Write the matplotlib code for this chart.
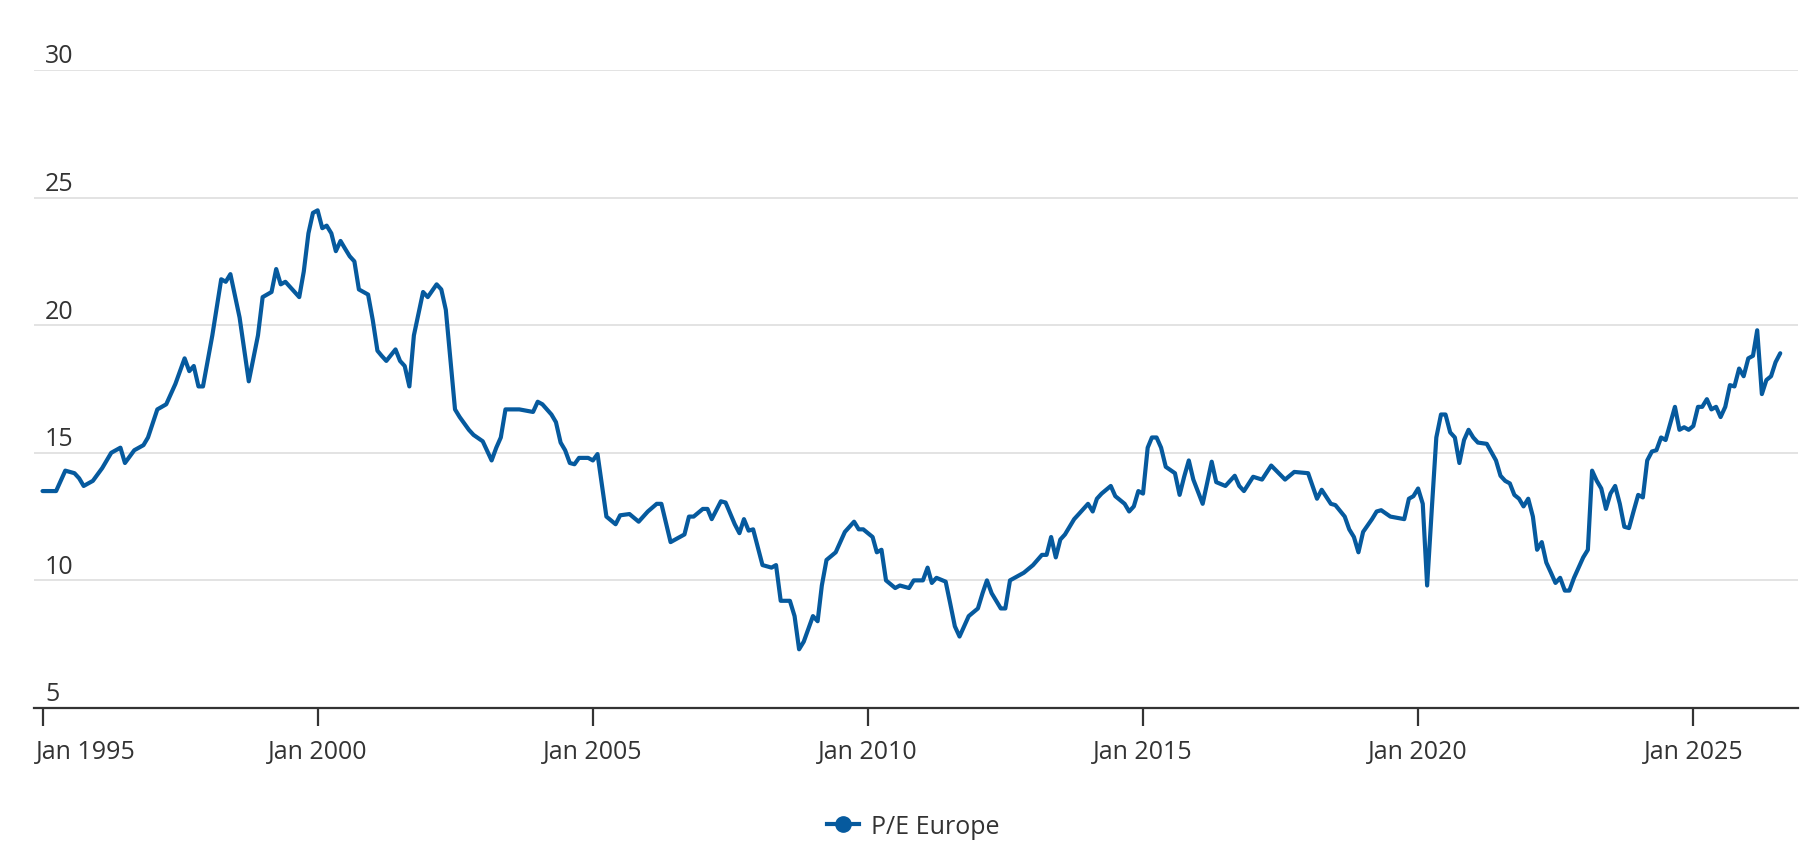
import matplotlib
matplotlib.use("Agg")
import matplotlib.pyplot as plt
from matplotlib.lines import Line2D
from matplotlib.transforms import offset_copy, blended_transform_factory, ScaledTranslation
import pandas as pd

# month-end P/E readings
dates = [
    "1995-01", "1995-04", "1995-06", "1995-08", "1995-09", "1995-10", "1995-12",
    "1996-02", "1996-04", "1996-06", "1996-07", "1996-09", "1996-11", "1996-12",
    "1997-02", "1997-04", "1997-06", "1997-08", "1997-09", "1997-10", "1997-11", "1997-12",
    "1998-02", "1998-04", "1998-05", "1998-06", "1998-08", "1998-10", "1998-12",
    "1999-01", "1999-03", "1999-04", "1999-05", "1999-06", "1999-09", "1999-10", "1999-11", "1999-12",
    "2000-01", "2000-02", "2000-03", "2000-04", "2000-05", "2000-06", "2000-07", "2000-08",
    "2000-09", "2000-10", "2000-12",
    "2001-01", "2001-02", "2001-03", "2001-04", "2001-06", "2001-07", "2001-08", "2001-09",
    "2001-10", "2001-12",
    "2002-01", "2002-03", "2002-04", "2002-05", "2002-07", "2002-08", "2002-10", "2002-11",
    "2003-01", "2003-03", "2003-04", "2003-05", "2003-06", "2003-09", "2003-12",
    "2004-01", "2004-02", "2004-04", "2004-05", "2004-06", "2004-07", "2004-08", "2004-09",
    "2004-10", "2004-12",
    "2005-01", "2005-02", "2005-03", "2005-04", "2005-06", "2005-07", "2005-09", "2005-11",
    "2006-01", "2006-03", "2006-04", "2006-06", "2006-09", "2006-10", "2006-11",
    "2007-01", "2007-02", "2007-03", "2007-05", "2007-06", "2007-08", "2007-09", "2007-10",
    "2007-11", "2007-12",
    "2008-02", "2008-04", "2008-05", "2008-06", "2008-08", "2008-09", "2008-10", "2008-11",
    "2009-01", "2009-02", "2009-03", "2009-04", "2009-06", "2009-08", "2009-10", "2009-11", "2009-12",
    "2010-02", "2010-03", "2010-04", "2010-05", "2010-07", "2010-08", "2010-10", "2010-11",
    "2011-01", "2011-02", "2011-03", "2011-04", "2011-06", "2011-07", "2011-08", "2011-09", "2011-11",
    "2012-01", "2012-02", "2012-03", "2012-04", "2012-06", "2012-07", "2012-08", "2012-10", "2012-11",
    "2013-01", "2013-03", "2013-04", "2013-05", "2013-06", "2013-07", "2013-08", "2013-10", "2013-11",
    "2014-01", "2014-02", "2014-03", "2014-04", "2014-06", "2014-07", "2014-09", "2014-10",
    "2014-11", "2014-12",
    "2015-01", "2015-02", "2015-03", "2015-04", "2015-05", "2015-06", "2015-08", "2015-09",
    "2015-10", "2015-11", "2015-12",
    "2016-02", "2016-03", "2016-04", "2016-05", "2016-07", "2016-09", "2016-10", "2016-11",
    "2017-01", "2017-03", "2017-05", "2017-08", "2017-10",
    "2018-01", "2018-03", "2018-04", "2018-06", "2018-07", "2018-09", "2018-10", "2018-11", "2018-12",
    "2019-01", "2019-03", "2019-04", "2019-05", "2019-07", "2019-10", "2019-11", "2019-12",
    "2020-01", "2020-02", "2020-03", "2020-04", "2020-05", "2020-06", "2020-07", "2020-08",
    "2020-09", "2020-10", "2020-11", "2020-12",
    "2021-01", "2021-02", "2021-04", "2021-06", "2021-07", "2021-08", "2021-09", "2021-10",
    "2021-11", "2021-12",
    "2022-01", "2022-02", "2022-03", "2022-04", "2022-05", "2022-06", "2022-07", "2022-08",
    "2022-09", "2022-10", "2022-11",
    "2023-01", "2023-02", "2023-03", "2023-04", "2023-05", "2023-06", "2023-07", "2023-08",
    "2023-09", "2023-10", "2023-11", "2023-12",
    "2024-01", "2024-02", "2024-03", "2024-04", "2024-05", "2024-06", "2024-07", "2024-09",
    "2024-10", "2024-11", "2024-12",
    "2025-01", "2025-02", "2025-03", "2025-04", "2025-05", "2025-06", "2025-07", "2025-08",
    "2025-09", "2025-10", "2025-11", "2025-12",
    "2026-01", "2026-02", "2026-03", "2026-04", "2026-05", "2026-06", "2026-07", "2026-08",
]

pe_europe = [
    13.5, 13.5, 14.3, 14.2, 14.0, 13.7, 13.9,
    14.4, 15.0, 15.2, 14.6, 15.1, 15.3, 15.6,
    16.7, 16.9, 17.7, 18.7, 18.2, 18.4, 17.6, 17.6,
    19.6, 21.8, 21.7, 22.0, 20.3, 17.8, 19.6,
    21.1, 21.3, 22.2, 21.6, 21.7, 21.1, 22.1, 23.6, 24.4,
    24.5, 23.8, 23.9, 23.6, 22.9, 23.3, 23.0, 22.7,
    22.5, 21.4, 21.2,
    20.2, 19.0, 18.8, 18.6, 19.05, 18.6, 18.4, 17.6,
    19.6, 21.3,
    21.1, 21.6, 21.4, 20.6, 16.7, 16.4, 15.9, 15.7,
    15.45, 14.7, 15.2, 15.6, 16.7, 16.7, 16.6,
    17.0, 16.9, 16.5, 16.2, 15.4, 15.1, 14.6, 14.55,
    14.8, 14.8,
    14.7, 14.95, 13.8, 12.5, 12.2, 12.55, 12.6, 12.3,
    12.7, 13.0, 13.0, 11.5, 11.8, 12.5, 12.5,
    12.8, 12.8, 12.4, 13.1, 13.05, 12.2, 11.85, 12.4,
    11.95, 12.0,
    10.6, 10.5, 10.6, 9.2, 9.2, 8.6, 7.3, 7.6,
    8.6, 8.4, 9.8, 10.8, 11.1, 11.9, 12.3, 12.0, 12.0,
    11.7, 11.1, 11.2, 10.0, 9.7, 9.8, 9.7, 10.0,
    10.0, 10.5, 9.9, 10.1, 9.95, 9.1, 8.2, 7.8, 8.6,
    8.9, 9.5, 10.0, 9.5, 8.9, 8.9, 10.0, 10.2, 10.3,
    10.6, 11.0, 11.0, 11.7, 10.9, 11.6, 11.8, 12.4, 12.6,
    13.0, 12.7, 13.2, 13.4, 13.7, 13.3, 13.0, 12.7,
    12.9, 13.5,
    13.4, 15.2, 15.6, 15.6, 15.2, 14.45, 14.2, 13.35,
    14.06, 14.7, 13.95,
    13.0, 13.8, 14.65, 13.85, 13.7, 14.1, 13.7, 13.5,
    14.06, 13.95, 14.5, 13.95, 14.25,
    14.2, 13.2, 13.55, 13.0, 12.95, 12.5, 12.0, 11.7, 11.1,
    11.9, 12.4, 12.7, 12.75, 12.5, 12.4, 13.2, 13.3,
    13.6, 13.0, 9.8, 12.8, 15.6, 16.5, 16.5, 15.8,
    15.6, 14.6, 15.5, 15.9,
    15.6, 15.4, 15.35, 14.7, 14.1, 13.9, 13.8, 13.35,
    13.2, 12.9,
    13.2, 12.5, 11.2, 11.5, 10.7, 10.3, 9.9, 10.1,
    9.6, 9.6, 10.1,
    10.9, 11.2, 14.3, 13.9, 13.6, 12.8, 13.4, 13.7,
    13.0, 12.1, 12.05, 12.7,
    13.35, 13.25, 14.7, 15.05, 15.1, 15.6, 15.5, 16.8,
    15.9, 16.0, 15.9,
    16.05, 16.8, 16.8, 17.1, 16.7, 16.8, 16.4, 16.8,
    17.65, 17.6, 18.3, 18.0,
    18.7, 18.8, 19.8, 17.3, 17.85, 18.0, 18.55, 18.9,
]

series_name = "P/E Europe"
y_ticks = [5, 10, 15, 20, 25, 30]
x_tick_years = [1995, 2000, 2005, 2010, 2015, 2020, 2025]

line_color = "#065a9e"
text_color = "#333333"

plt.rcParams["font.family"] = ["Open Sans", "DejaVu Sans"]

x = pd.to_datetime(dates)

fig = plt.figure(figsize=(18.16, 8.54), dpi=100)
ax = fig.add_axes([0.0187, 0.1698, 0.9714, 0.7471])

ax.plot(x, pe_europe, color=line_color, lw=3.0, solid_joinstyle="round",
        solid_capstyle="round", zorder=3)

ax.set_ylim(5, 30)
ax.set_xlim(pd.Timestamp("1994-11-05"), pd.Timestamp("2026-11-27"))

# horizontal grid
for v in y_ticks[1:]:
    ax.axhline(v, color="#e3e3e3", lw=1.4, zorder=1)

for s in ["top", "right", "left"]:
    ax.spines[s].set_visible(False)
ax.spines["bottom"].set_color(text_color)
ax.spines["bottom"].set_linewidth(1.6)

# y labels sit above their grid lines, at the left edge
ax.set_yticks([])
trans = offset_copy(blended_transform_factory(ax.transAxes, ax.transData),
                    fig=fig, x=0, y=5.5, units="points")
for v in y_ticks:
    ax.text(0.0062, v, str(v), transform=trans, ha="left", va="baseline",
            fontsize=18, color=text_color)

tick_dates = [pd.Timestamp(f"{yr}-01-01") for yr in x_tick_years]
ax.set_xticks(tick_dates)
ax.set_xticklabels([f"Jan {yr}" for yr in x_tick_years])
ax.tick_params(axis="x", length=13, width=1.6, color=text_color,
               labelsize=18, labelcolor=text_color, pad=9)

# first label is pushed inside the chart like the original
first = ax.get_xticklabels()[0]
first.set_horizontalalignment("left")
first.set_transform(first.get_transform() + ScaledTranslation(-0.07, 0, fig.dpi_scale_trans))

handle = Line2D([], [], color=line_color, lw=3.0, marker="o", markersize=11,
                markerfacecolor=line_color, markeredgecolor=line_color)
fig.legend([handle], [series_name], loc="center", bbox_to_anchor=(0.503, 0.031),
           frameon=False, fontsize=18, handlelength=1.25, handletextpad=0.5,
           labelcolor=text_color)

fig.savefig("out.png", dpi=100, facecolor="white")
